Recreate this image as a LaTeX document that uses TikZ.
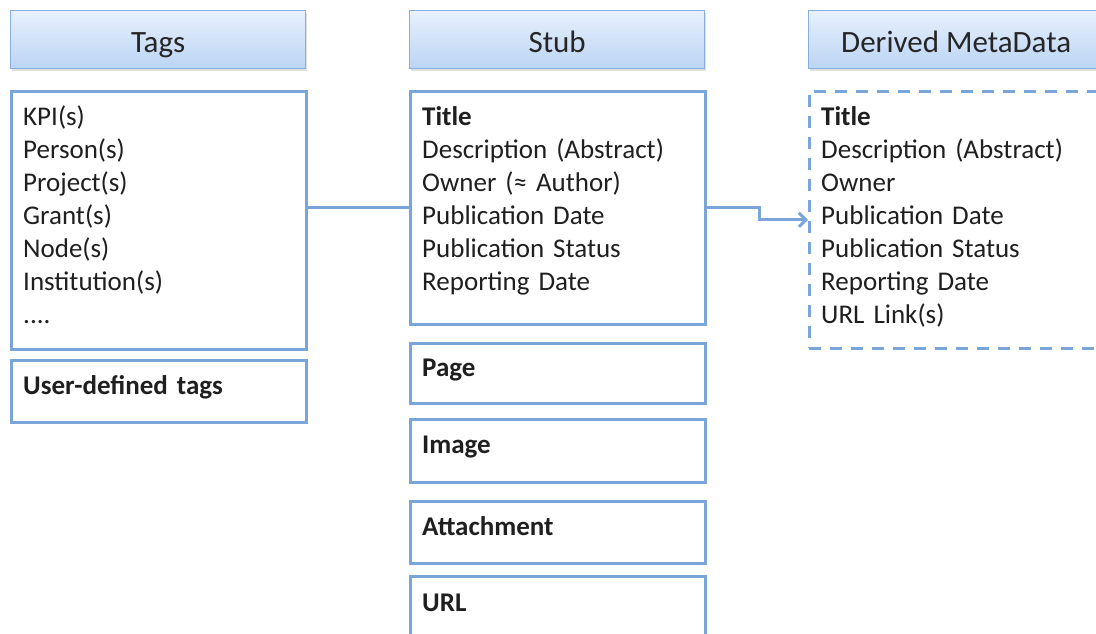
\documentclass[tikz,border=0pt]{standalone}
\usepackage{fontspec}
\setmainfont{Carlito}
\usetikzlibrary{arrows.meta,shadows}
\definecolor{bline}{HTML}{79A5DA}
\definecolor{htop}{HTML}{E8F1FD}
\definecolor{hbot}{HTML}{BBD4F4}
\tikzset{
  box/.style={draw=bline, line width=2.6pt, fill=white, minimum width=295pt, anchor=north west, inner sep=0pt},
  header/.style={box, draw=bline!90, line width=1.3pt, top color=htop, bottom color=hbot, minimum height=58pt,
     text height=30pt, text depth=4pt,
     font=\fontsize{31}{36}\selectfont, text=black!85, drop shadow={opacity=0.25, shadow xshift=1.5pt, shadow yshift=-2pt}},
  dbox/.style={box, dash pattern=on 12pt off 9pt},
  txt/.style={anchor=base west, inner sep=0pt, text width=280pt, align=left, font=\fontsize{27}{33}\selectfont, text=black!88},
  conn/.style={draw=bline, line width=3pt},
}
\begin{document}
\begin{tikzpicture}[x=1pt,y=-1pt]
\useasboundingbox (0,0) rectangle (1096,633);
% headers
\node[header] (htags) at (10,10) {Tags};
\node[header] (hstub) at (409,10) {Stub};
\node[header] (hder) at (808,10) {Derived MetaData};
% Tags column
\node[box, minimum height=258pt] (tags) at (10,90) {};
\node[txt] (tagst) at (23,125) {KPI(s)\\Person(s)\\Project(s)\\Grant(s)\\Node(s)\\Institution(s)\\....};
\node[box, minimum height=62pt] (user) at (10,359) {};
\node[txt] (usert) at (23,394) {\textbf{User-defined tags}};
% Stub column
\node[box, minimum height=233pt] (stub) at (409,90) {};
\node[txt] (stubt) at (422,125) {\textbf{Title}\\Description (Abstract)\\Owner (≈ Author)\\Publication Date\\Publication Status\\Reporting Date};
\node[box, minimum height=60pt] (page) at (409,342) {};
\node[txt] (paget) at (422,376) {\textbf{Page}};
\node[box, minimum height=63pt] (image) at (409,418) {};
\node[txt] (imaget) at (422,453) {\textbf{Image}};
\node[box, minimum height=62pt] (attach) at (409,500) {};
\node[txt] (attacht) at (422,535) {\textbf{Attachment}};
\node[box, minimum height=70pt] (url) at (409,575) {};
\node[txt] (urlt) at (422,611) {\textbf{URL}};
% Derived column
\node[dbox, minimum width=300pt, minimum height=257pt] (der) at (808,90) {};
\node[txt] (dert) at (821,125) {\textbf{Title}\\Description (Abstract)\\Owner\\Publication Date\\Publication Status\\Reporting Date\\URL Link(s)};
% connectors
\draw[conn] (stub.west -| tags.east) -- (stub.west);
\draw[conn, -{Straight Barb[length=7pt,width=14pt]}] (stub.east) -- ++(53,0) |- (der.west);
\end{tikzpicture}
\end{document}
